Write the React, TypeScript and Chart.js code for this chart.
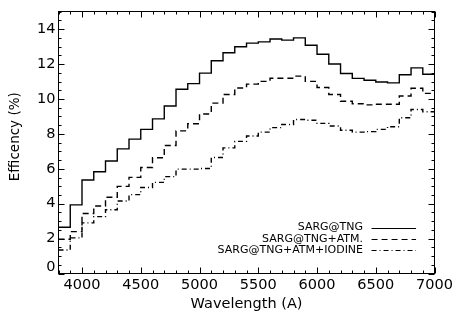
import React, { useEffect, useRef } from "react";
import { Chart, registerables } from "chart.js";

Chart.register(...registerables);

// Bin start wavelengths (Angstrom), each bin 100 A wide
const binStarts = [
  3800, 3900, 4000, 4100, 4200, 4300, 4400, 4500, 4600, 4700,
  4800, 4900, 5000, 5100, 5200, 5300, 5400, 5500, 5600, 5700,
  5800, 5900, 6000, 6100, 6200, 6300, 6400, 6500, 6600, 6700,
  6800, 6900,
];
const lastEdge = 7000;

const seriesLabels = ["SARG@TNG", "SARG@TNG+ATM.", "SARG@TNG+ATM+IODINE"];

const sargTng = [
  2.65, 3.93, 5.36, 5.83, 6.45, 7.14, 7.70, 8.26, 8.86, 9.60,
  10.56, 10.88, 11.48, 12.19, 12.65, 12.99, 13.20, 13.27, 13.44, 13.37,
  13.50, 13.08, 12.56, 12.00, 11.46, 11.18, 11.07, 10.97, 10.92, 11.39,
  11.78, 11.42,
];
const sargTngAtm = [
  1.96, 2.40, 3.44, 3.87, 4.37, 4.99, 5.51, 6.07, 6.63, 7.33,
  8.17, 8.58, 9.14, 9.76, 10.26, 10.63, 10.85, 11.01, 11.19, 11.19,
  11.31, 11.01, 10.66, 10.26, 9.87, 9.73, 9.66, 9.70, 9.70, 10.17,
  10.61, 10.32,
];
const sargTngIodine = [
  1.35, 2.04, 2.90, 3.26, 3.65, 4.15, 4.52, 4.93, 5.22, 5.55,
  5.98, 5.98, 6.02, 6.65, 7.20, 7.57, 7.88, 8.10, 8.36, 8.54,
  8.82, 8.78, 8.60, 8.45, 8.21, 8.10, 8.13, 8.26, 8.41, 8.92,
  9.40, 9.27,
];

const xTickValues = [4000, 4500, 5000, 5500, 6000, 6500, 7000];
const yTickValues = [0, 2, 4, 6, 8, 10, 12, 14];

const xTitle = "Wavelength (A)";
const yTitle = "Efficency (%)";

const xMin = 3800;
const xMax = 7000;
const yMin = 0;
const yMax = 15;

const FONT = "DejaVu Sans";

function toSteps(values: number[]) {
  const pts = binStarts.map((x, i) => ({ x, y: values[i] }));
  pts.push({ x: lastEdge, y: values[values.length - 1] });
  return pts;
}

const dashes: number[][] = [[], [6, 4], [5, 3, 1, 3]];

const idlFramePlugin = {
  id: "idlFrame",
  afterDatasetsDraw(chart: any) {
    const { ctx, chartArea, scales } = chart;
    const xs = scales.x;
    const ys = scales.y;
    const L = Math.floor(chartArea.left) + 0.5;
    const R = Math.floor(chartArea.right) + 0.5;
    const T = Math.floor(chartArea.top) + 0.5;
    const B = Math.floor(chartArea.bottom) + 0.5;
    ctx.save();
    ctx.strokeStyle = "#000";
    ctx.lineWidth = 1;
    ctx.setLineDash([]);
    ctx.strokeRect(L, T, R - L, B - T);
    ctx.beginPath();
    for (let v = xMin; v <= xMax; v += 100) {
      const px = Math.round(xs.getPixelForValue(v)) + 0.5;
      const len = v % 500 === 0 ? 6 : 3;
      ctx.moveTo(px, B);
      ctx.lineTo(px, B - len);
      ctx.moveTo(px, T);
      ctx.lineTo(px, T + len);
    }
    for (let v = yMin; v <= yMax + 1e-9; v += 0.5) {
      const py = Math.round(ys.getPixelForValue(v)) + 0.5;
      const len = Math.abs(v % 2) < 1e-9 ? 6 : 3;
      ctx.moveTo(L, py);
      ctx.lineTo(L + len, py);
      ctx.moveTo(R, py);
      ctx.lineTo(R - len, py);
    }
    ctx.stroke();

    // "0" label drawn slightly raised, as in the original
    ctx.fillStyle = "#000";
    ctx.font = `14.5px "${FONT}"`;
    ctx.textAlign = "right";
    ctx.textBaseline = "middle";
    ctx.fillText(String(yMin), chartArea.left - 3, ys.getPixelForValue(yMin) - 6.5);

    // Y title (sits a little above the axis centre in the original)
    ctx.save();
    ctx.font = `13.5px "${FONT}"`;
    ctx.textAlign = "center";
    ctx.textBaseline = "middle";
    ctx.translate(15.5, chartArea.top + 125);
    ctx.rotate(-Math.PI / 2);
    ctx.fillText(yTitle, 0, 0);
    ctx.restore();

    // Legend
    ctx.font = `11px "${FONT}"`;
    ctx.textAlign = "right";
    ctx.textBaseline = "middle";
    const baseY = chartArea.bottom - 46;
    chart.data.datasets.forEach((ds: any, i: number) => {
      const y = baseY + i * 11.3;
      ctx.fillText(ds.label, chartArea.right - 71.5, y);
      ctx.beginPath();
      ctx.setLineDash(ds.borderDash || []);
      ctx.lineWidth = 1.2;
      ctx.moveTo(chartArea.right - 63, Math.round(y) + 0.5);
      ctx.lineTo(chartArea.right - 18.5, Math.round(y) + 0.5);
      ctx.stroke();
    });
    ctx.restore();
  },
};

export default function App() {
  const canvasRef = useRef<HTMLCanvasElement | null>(null);

  useEffect(() => {
    if (!canvasRef.current) return;
    const series = [sargTng, sargTngAtm, sargTngIodine];
    const chart = new Chart(canvasRef.current, {
      type: "line",
      data: {
        datasets: series.map((vals, i) => ({
          label: seriesLabels[i],
          data: toSteps(vals),
          stepped: "before" as const,
          borderColor: "#000",
          borderWidth: 1.4,
          borderDash: dashes[i],
          pointRadius: 0,
          fill: false,
        })),
      },
      options: {
        responsive: false,
        animation: false,
        devicePixelRatio: 1,
        layout: { padding: { top: 4.5, right: 20.5, left: 0, bottom: 0 } },
        plugins: {
          legend: { display: false },
          tooltip: { enabled: false },
        },
        scales: {
          x: {
            type: "linear",
            min: xMin,
            max: xMax,
            afterBuildTicks: (s: any) => {
              s.ticks = xTickValues.map((v) => ({ value: v }));
            },
            afterFit: (s: any) => {
              s.height = 48.5;
            },
            grid: { display: false, drawTicks: false },
            border: { display: false },
            ticks: {
              autoSkip: false,
              maxRotation: 0,
              padding: 3,
              color: "#000",
              font: { family: FONT, size: 14.5 },
              callback: (v: any) => String(v),
            },
            title: {
              display: true,
              text: xTitle,
              color: "#000",
              font: { family: FONT, size: 14.5 },
              padding: { top: 0, bottom: 9 },
            },
          },
          y: {
            type: "linear",
            min: yMin,
            max: yMax,
            afterBuildTicks: (s: any) => {
              s.ticks = yTickValues.map((v) => ({ value: v }));
            },
            afterFit: (s: any) => {
              s.width = 58.5;
            },
            grid: { display: false, drawTicks: false },
            border: { display: false },
            ticks: {
              autoSkip: false,
              padding: 3,
              color: "#000",
              font: { family: FONT, size: 14.5 },
              callback: (v: any) => (Number(v) === yMin ? "" : String(v)),
            },
            title: { display: false },
          },
        },
      },
      plugins: [idlFramePlugin],
    });
    return () => chart.destroy();
  }, []);

  return (
    <div style={{ position: "absolute", left: 0, top: 0, width: 456, height: 322, background: "#fff" }}>
      <canvas ref={canvasRef} width={456} height={322} />
    </div>
  );
}
